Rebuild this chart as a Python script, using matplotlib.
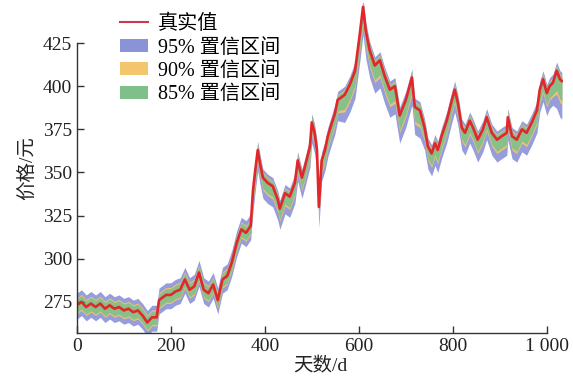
import numpy as np
import matplotlib
matplotlib.use("Agg")
import matplotlib.pyplot as plt
from matplotlib.lines import Line2D
from matplotlib.patches import Patch

plt.rcParams['font.family'] = ['Liberation Serif', 'Noto Sans CJK SC', 'DejaVu Sans']

# true price
days = [0, 10, 20, 30, 40, 50, 60, 70, 80, 90, 100, 110, 120, 130, 140, 150,
        160, 170, 175, 180, 190, 200, 210, 220, 230, 240, 250, 260, 270, 280,
        290, 300, 310, 320, 330, 340, 350, 360, 370, 375, 380, 385, 390, 396,
        406, 417, 428, 432, 443, 453, 464, 470, 479, 485, 496, 500, 506, 511,
        515, 521, 528, 534, 543, 549, 555, 570, 581, 592, 602, 609, 615, 623,
        634, 645, 655, 666, 677, 687, 700, 713, 719, 730, 740, 747, 755, 762,
        768, 776, 787, 798, 804, 811, 819, 826, 836, 843, 853, 864, 872, 883,
        894, 904, 915, 917, 926, 936, 947, 957, 968, 979, 985, 992, 1000, 1006,
        1013, 1021, 1028, 1032]
price = [273, 275, 272, 274, 272, 274, 271, 273, 271, 272, 270, 271, 269, 270,
         267, 263, 266, 266, 276, 277, 279, 279, 281, 282, 288, 282, 284, 292,
         282, 280, 285, 276, 288, 290, 298, 309, 317, 315, 319, 340, 352, 363,
         355, 347, 344, 342, 334, 329, 338, 336, 344, 357, 347, 353, 365, 379,
         373, 363, 330, 357, 363, 371, 379, 384, 392, 395, 401, 409, 430, 446,
         432, 421, 412, 415, 406, 398, 400, 383, 392, 405, 388, 386, 376, 365,
         361, 367, 363, 371, 380, 392, 398, 390, 376, 373, 380, 376, 369, 375,
         382, 373, 369, 371, 373, 382, 371, 369, 375, 373, 379, 386, 398, 404,
         396, 400, 402, 409, 404, 403]

# 95% band widths below / above the true price, by stretch of days
seg_start = [0, 375, 560, 740, 1020]
seg_below = [8, 12, 16, 13, 22]
seg_above = [7, 5, 5, 5, 5]
# share of the 95% width taken by the narrower intervals
share90 = 0.62
share85 = 0.52

days = np.array(days)
price = np.array(price, dtype=float)
idx = np.searchsorted(seg_start, days, side='right') - 1
below = np.array(seg_below)[idx]
above = np.array(seg_above)[idx]

fig = plt.figure(figsize=(5.73, 3.8), dpi=100)
ax = fig.add_axes([0.134, 0.124, 0.849, 0.867])

ax.fill_between(days, price - below, price + above, color='#8a93d6', alpha=0.9, lw=0)
ax.fill_between(days, price - below * share90, price + above * share90,
                color='#f3c66e', alpha=0.9, lw=0)
ax.fill_between(days, price - below * share85, price + above * share85,
                color='#7fbf8a', alpha=0.9, lw=0)
ax.plot(days, price, color='#e3262b', lw=1.9)

ax.set_xlim(0, 1035)
ax.set_ylim(257, 448)
ax.set_xticks([0, 200, 400, 600, 800, 1000])
ax.set_xticklabels(['0', '200', '400', '600', '800', '1 000'])
ax.set_yticks([275, 300, 325, 350, 375, 400, 425])
ax.spines['top'].set_visible(False)
ax.spines['right'].set_visible(False)
ax.spines['left'].set_bounds(257, 425)
ax.spines['bottom'].set_bounds(0, 1000)
for s in ('left', 'bottom'):
    ax.spines[s].set_linewidth(1.0)
    ax.spines[s].set_color('#333333')
ax.tick_params(direction='in', length=5, width=1, labelsize=14, colors='#333333',
               labelcolor='#222222')
ax.set_xlabel('天数/d', fontsize=14, labelpad=2, color='#222222')
ax.set_ylabel('价格/元', fontsize=14, labelpad=4, color='#222222')

handles = [Line2D([], [], color='#c83a52', lw=1.5),
           Patch(facecolor='#8a93d6', edgecolor='none'),
           Patch(facecolor='#f3c66e', edgecolor='none'),
           Patch(facecolor='#7fbf8a', edgecolor='none')]
labels = ['真实值', '95% 置信区间', '90% 置信区间', '85% 置信区间']
ax.legend(handles, labels, loc='upper left', bbox_to_anchor=(0.072, 0.99),
          frameon=False, fontsize=14.5, handlelength=1.4, handleheight=0.6,
          handletextpad=0.5, labelspacing=0.22, borderaxespad=0)

fig.savefig('out.png', dpi=100)
